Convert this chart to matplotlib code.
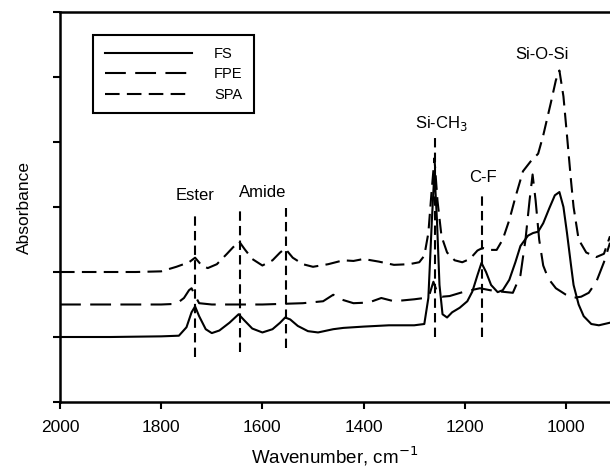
import matplotlib
matplotlib.use('Agg')
from matplotlib import pyplot as plt

plt.rcParams['font.family'] = ['Liberation Sans', 'DejaVu Sans']

# FS (solid)
fs_wn = [2000, 1900, 1800, 1765, 1750, 1740, 1733, 1725, 1712, 1700, 1685, 1665, 1647,
         1635, 1620, 1600, 1580, 1565, 1555, 1545, 1530, 1510, 1490, 1460, 1440, 1400,
         1350, 1300, 1280, 1272, 1265, 1260, 1255, 1250, 1244, 1235, 1225, 1210, 1195,
         1185, 1175, 1167, 1158, 1148, 1135, 1125, 1112, 1100, 1090, 1075, 1065, 1055,
         1045, 1033, 1022, 1013, 1005, 998, 990, 985, 975, 965, 950, 935, 913]
fs_abs = [1.0, 1.0, 1.01, 1.02, 1.15, 1.38, 1.47, 1.32, 1.12, 1.06, 1.1, 1.22, 1.35,
          1.25, 1.13, 1.07, 1.12, 1.22, 1.30, 1.27, 1.17, 1.09, 1.07, 1.12, 1.14, 1.16,
          1.18, 1.18, 1.2, 1.6, 2.8, 3.55, 2.8, 1.8, 1.35, 1.3, 1.38, 1.45, 1.55,
          1.7, 1.95, 2.14, 2.0, 1.8, 1.69, 1.72, 1.88, 2.15, 2.4, 2.56, 2.6, 2.62,
          2.75, 2.98, 3.18, 3.23, 3.0, 2.6, 2.1, 1.8, 1.5, 1.32, 1.2, 1.18, 1.22]

# FPE (long dash)
fpe_wn = [2000, 1900, 1800, 1770, 1755, 1745, 1740, 1732, 1725, 1700, 1650, 1600, 1520,
          1480, 1460, 1445, 1420, 1390, 1365, 1340, 1300, 1280, 1270, 1262, 1255, 1245,
          1230, 1200, 1170, 1150, 1130, 1105, 1090, 1080, 1072, 1066, 1060, 1053, 1045,
          1035, 1020, 1000, 987, 970, 955, 940, 925, 913]
fpe_abs = [1.5, 1.5, 1.5, 1.51, 1.6, 1.72, 1.75, 1.62, 1.52, 1.5, 1.5, 1.5, 1.52,
           1.55, 1.65, 1.58, 1.52, 1.53, 1.6, 1.55, 1.58, 1.6, 1.65, 1.85, 1.7, 1.62,
           1.63, 1.7, 1.75, 1.72, 1.7, 1.68, 1.95, 2.5, 3.1, 3.5, 3.1, 2.5, 2.1,
           1.9, 1.75, 1.65, 1.6, 1.62, 1.68, 1.85, 2.15, 2.45]

# SPA (short dash)
spa_wn = [2000, 1850, 1800, 1770, 1745, 1733, 1720, 1708, 1690, 1670, 1658, 1646, 1635,
          1620, 1600, 1580, 1565, 1555, 1540, 1520, 1500, 1470, 1440, 1420, 1400, 1370,
          1340, 1310, 1290, 1280, 1272, 1266, 1260, 1254, 1246, 1235, 1220, 1205, 1190,
          1175, 1165, 1150, 1137, 1125, 1112, 1100, 1085, 1070, 1055, 1045, 1030, 1020,
          1013, 1005, 998, 990, 985, 975, 960, 940, 925, 913]
spa_abs = [2.0, 2.0, 2.01, 2.08, 2.15, 2.22, 2.1, 2.06, 2.12, 2.28, 2.38, 2.47, 2.35,
           2.2, 2.1, 2.18, 2.3, 2.36, 2.22, 2.12, 2.08, 2.12, 2.18, 2.17, 2.2, 2.16,
           2.11, 2.12, 2.15, 2.25, 2.6, 3.2, 3.75, 3.1, 2.55, 2.3, 2.18, 2.15, 2.2,
           2.33, 2.37, 2.34, 2.34, 2.5, 2.8, 3.15, 3.55, 3.7, 3.82, 4.1, 4.6, 4.95,
           5.1, 4.7, 4.1, 3.4, 3.0, 2.5, 2.3, 2.23, 2.28, 2.55]

# band marker lines
band_wn = [1733, 1645, 1554, 1258, 1165]
band_top = [2.9, 2.98, 2.98, 4.06, 3.23]
band_bottom = [0.69, 0.77, 0.83, 1.0, 1.0]

fig = plt.figure(figsize=(6.1, 4.75), dpi=100)
ax = fig.add_axes([60 / 610, 73 / 475, 550 / 610, 390 / 475])

ax.plot(fs_wn, fs_abs, color='k', lw=1.5, label='FS')
ax.plot(fpe_wn, fpe_abs, color='k', lw=1.5, dashes=(10, 4.5), label='FPE')
ax.plot(spa_wn, spa_abs, color='k', lw=1.5, dashes=(7, 3.5), label='SPA')

ax.vlines(band_wn, band_bottom, band_top, colors='k', lw=1.5, linestyles=(0, (4.5, 2.5)))

# band labels
ax.text(1733, 3.18, 'Ester', ha='center', va='center', fontsize=12)
ax.text(1599, 3.23, 'Amide', ha='center', va='center', fontsize=12)
ax.text(1246, 4.29, 'Si-CH$_3$', ha='center', va='center', fontsize=12)
ax.text(1165, 3.46, 'C-F', ha='center', va='center', fontsize=12)
ax.text(1047, 5.34, 'Si-O-Si', ha='center', va='center', fontsize=12)

ax.set_xlim(2000, 913)
ax.set_ylim(0, 6)
ax.set_xticks([2000, 1800, 1600, 1400, 1200, 1000])
ax.set_yticks([0, 1, 2, 3, 4, 5, 6])
ax.set_yticklabels([])
ax.tick_params(direction='out', length=5, width=1.5, labelsize=12.5, pad=8)
ax.spines['right'].set_visible(False)
for s in ['left', 'bottom', 'top']:
    ax.spines[s].set_linewidth(1.8)

ax.set_xlabel('Wavenumber, cm$^{-1}$', fontsize=13.5, labelpad=7)
ax.set_ylabel('Absorbance', fontsize=12.5, labelpad=7)

leg = ax.legend(loc='upper left', bbox_to_anchor=(0.06, 0.941), fontsize=10.5,
                handlelength=6, fancybox=False, edgecolor='k', framealpha=1,
                borderpad=0.8, labelspacing=0.45, handletextpad=1.5,
                borderaxespad=0)
leg.get_frame().set_linewidth(1.5)

plt.savefig('out.png', dpi=100)
